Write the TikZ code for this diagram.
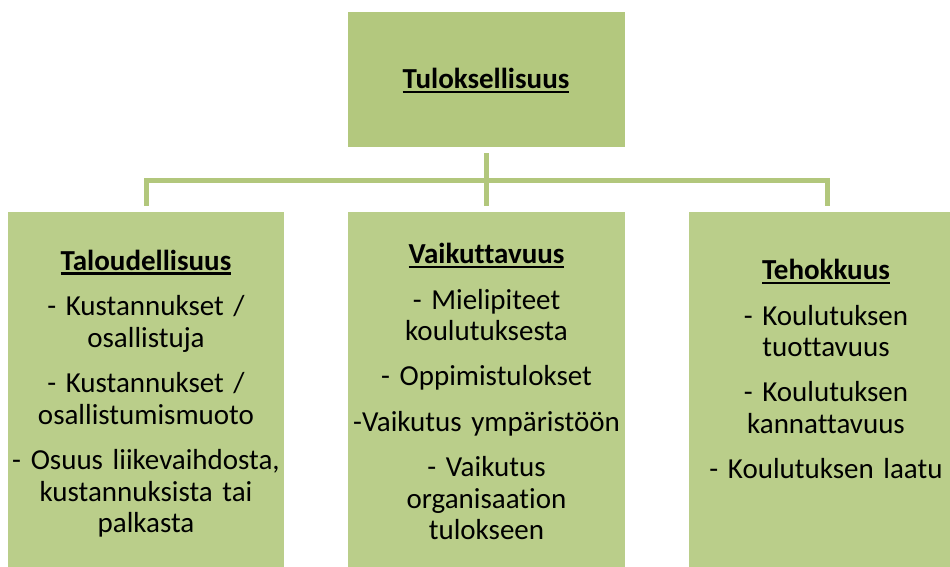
\documentclass[tikz,border=0pt]{standalone}
\usepackage{fontspec}
\setmainfont{Carlito}[Ligatures=CommonOff]
\definecolor{topfill}{HTML}{B3C87E}
\definecolor{boxfill}{HTML}{BACE8A}
\definecolor{linecol}{HTML}{B2C77C}
\newcommand\myul[1]{\setbox0\hbox{#1}\rlap{\vrule width\wd0 height -2.4pt depth 4.6pt}\box0}
\newcommand\pgap{\\[13.5pt]}
\tikzset{
  topbox/.style={rectangle, fill=topfill, inner sep=0pt, minimum width=277pt, minimum height=135pt},
  subbox/.style={rectangle, fill=boxfill, inner sep=0pt, minimum width=276pt, minimum height=363pt},
  boxtext/.style={inner sep=0pt, anchor=base, text width=275pt, align=center,
    font=\fontsize{29}{31.7}\selectfont},
  conn/.style={draw=linecol, line width=5pt, line join=miter, shorten <=6pt, shorten >=6pt}
}
\begin{document}
\begin{tikzpicture}[x=1pt,y=-1pt]
\useasboundingbox (0,0) rectangle (950,567);
\node[topbox] (top) at (486.5,79.5) {};
\node[subbox] (left) at (146,393.5) {};
\node[subbox, minimum width=277pt] (mid) at (486.5,393.5) {};
\node[subbox] (right) at (827,393.5) {};
\coordinate (hub) at (487,180);
\node[boxtext] (ttop) at (486,88.3) {\textbf{\myul{Tuloksellisuus}}};
\node[boxtext] (tleft) at (146,270) {\textbf{\myul{Taloudellisuus}}\\[14pt]
- Kustannukset /\\ osallistuja\pgap
- Kustannukset /\\ osallistumismuoto\pgap
- Osuus liikevaihdosta,\\ kustannuksista tai\\ palkasta};
\node[boxtext] (tmid) at (486.5,263.3) {\textbf{\myul{Vaikuttavuus}}\\[14pt]
- Mielipiteet\\ koulutuksesta\pgap
- Oppimistulokset\pgap
-Vaikutus ympäristöön\pgap
- Vaikutus\\ organisaation\\ tulokseen};
\node[boxtext] (tright) at (826,279.3) {\textbf{\myul{Tehokkuus}}\\[14pt]
- Koulutuksen\\ tuottavuus\pgap
- Koulutuksen\\ kannattavuus\pgap
- Koulutuksen laatu};
\draw[conn] (top.south) -- (mid.north);
\draw[conn] (left.north) -- (left.north |- hub) -- (right.north |- hub) -- (right.north);
\end{tikzpicture}
\end{document}
